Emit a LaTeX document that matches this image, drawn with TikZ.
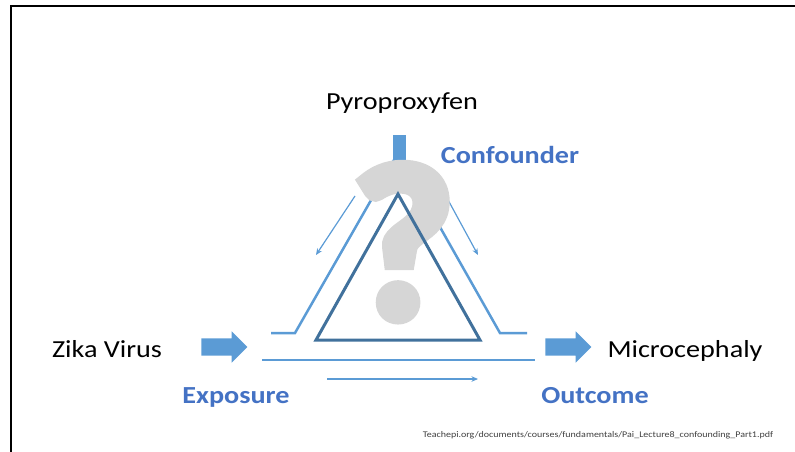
\documentclass[tikz,border=0pt]{standalone}
\usepackage{fontspec}
\setmainfont{Carlito}[FakeStretch=1.15]
\newfontfamily\qfont{Carlito}
\usetikzlibrary{arrows.meta,shapes.arrows}
\definecolor{railC}{HTML}{5B9BD5}
\definecolor{coreC}{HTML}{41719C}
\definecolor{tagC}{HTML}{4472C4}
\definecolor{qGrey}{HTML}{D6D6D6}
\definecolor{noteC}{HTML}{404040}
\newcommand{\lblExp}{Zika Virus}
\newcommand{\lblOut}{Microcephaly}
\newcommand{\lblConf}{Pyroproxyfen}
\newcommand{\tagExp}{Exposure}
\newcommand{\tagOut}{Outcome}
\newcommand{\tagConf}{Confounder}
\newcommand{\lblSrc}{Teachepi.org/documents/courses/fundamentals/Pai\_Lecture8\_confounding\_Part1.pdf}
% heavier glyph: fill and stroke the outline
\newcommand{\heavy}[1]{\special{pdf:literal direct 2 Tr 12 w}#1\special{pdf:literal direct 0 Tr 1 w}}

\begin{document}
\begin{tikzpicture}[
  x=1pt, y=-1pt,
  word/.style  ={inner sep=0pt, anchor=base, font=\fontsize{24.5}{28}\selectfont},
  tag/.style   ={word, font=\fontsize{24.5}{28}\selectfont\bfseries, text=tagC},
  fat/.style   ={single arrow, fill=railC, draw=none, inner sep=0pt,
                 text height=8.5pt, text depth=8.5pt, text width=0pt,
                 minimum height=46pt, single arrow head extend=7pt},
  rail/.style  ={draw=railC, line width=2.5pt},
  core/.style  ={draw=coreC, line width=3pt},
  hint/.style  ={->, draw=railC, line width=1.2pt,
                 >={Stealth[length=6.5pt, width=5.5pt]}},
]

% ---- canvas ----------------------------------------------------------------
\useasboundingbox (0,0) rectangle (795,452);
\draw[line width=2pt] (11,452) -- (11,6) -- (795,6);

% ---- labels ----------------------------------------------------------------
\node[word] (pyro)  at (402,109) {\lblConf};
\node[tag]  (conf)  at (510,163) {\tagConf};
\node[word] (zika)  at (107,357) {\lblExp};
\node[word] (micro) at (685,357) {\lblOut};
\node[tag]  (expo)  at (236,403) {\tagExp};
\node[tag]  (outc)  at (595,403) {\tagOut};

% ---- block arrows ----------------------------------------------------------
\node[fat] (arrA) at (220,347) {};
\node[fat] (arrB) at (564,347) {};

% ---- the rails -------------------------------------------------------------
\coordinate (apex)  at (398,153);
\coordinate (railL) at (295,333);
\coordinate (endL)  at (271,333);
\coordinate (railR) at (500,333);
\coordinate (endR)  at (527,333);
\draw[rail] (endL) -- (railL) -- (apex) -- (railR) -- (endR);

\coordinate (baseL) at (262,360);
\coordinate (baseR) at (535,360);
\draw[rail] (baseL) -- (baseR);

% small direction arrows
\coordinate (hLa) at (355,196); \coordinate (hLb) at (316,255);
\coordinate (hRa) at (447,198); \coordinate (hRb) at (478,255);
\coordinate (hBa) at (327,379); \coordinate (hBb) at (478,379);
\draw[hint] (hLa) -- (hLb);
\draw[hint] (hRa) -- (hRb);
\draw[hint] (hBa) -- (hBb);

% stem from the confounder
\fill[railC] (393,135) rectangle (406,160);

% ---- question mark ---------------------------------------------------------
\node[inner sep=0pt, anchor=base, text=qGrey,
      font=\fontsize{219}{219}\qfont\bfseries] (qmark) at (403,317)
  {\heavy{?}};

% ---- inner triangle, over the question mark --------------------------------
\coordinate (tA) at (398,194);
\coordinate (tB) at (316,340);
\coordinate (tC) at (480,340);
\draw[core] (tA) -- (tB) -- (tC) -- cycle;

% ---- source ----------------------------------------------------------------
\node[inner sep=0pt, anchor=base, text=noteC,
      font=\fontsize{8.7}{10}\selectfont] (src) at (598,437) {\lblSrc};

\end{tikzpicture}
\end{document}
